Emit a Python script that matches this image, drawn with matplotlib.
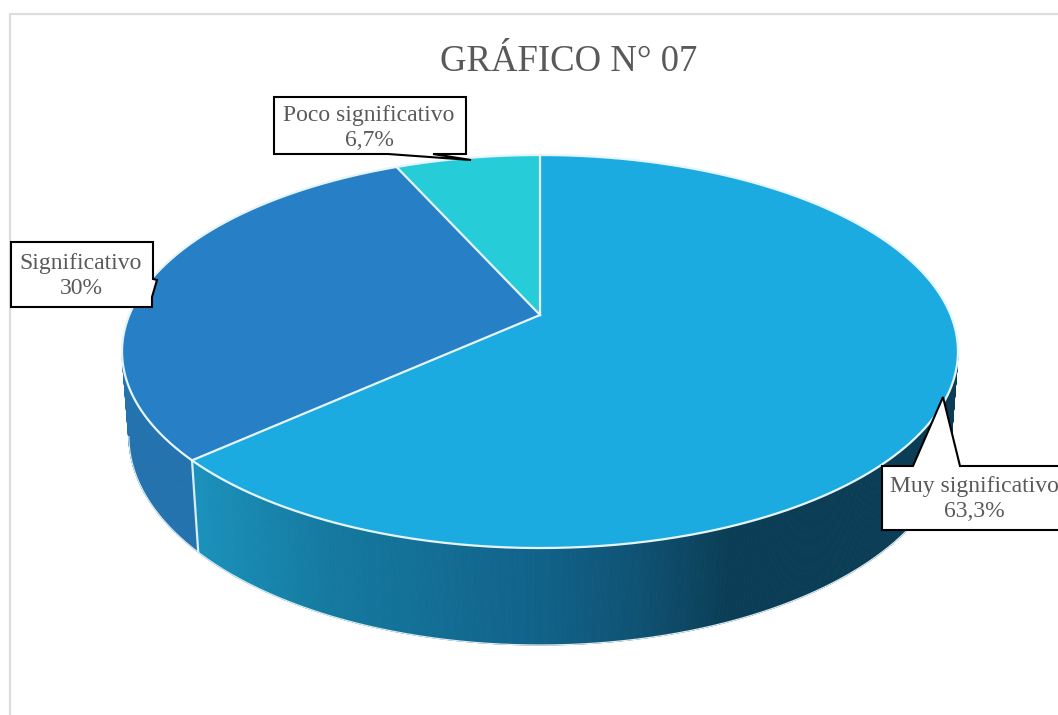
import numpy as np
import matplotlib
matplotlib.use("Agg")
import matplotlib.pyplot as plt
from matplotlib.collections import PolyCollection
from matplotlib.colors import to_rgb

plt.rcParams['font.family'] = ['Liberation Serif', 'DejaVu Serif']

title = "GRÁFICO N° 07"
labels = ["Muy significativo", "Significativo", "Poco significativo"]
values = [63.3, 30, 6.7]
colors = ["#1babe0", "#277fc5", "#26ccd8"]
text_color = "#595959"


# perspective of the tilted disc, z=0 top face, z=1 bottom rim
def project(theta, z=0.0):
    u = np.sin(theta)
    v = np.cos(theta)
    w = 1 + 0.1858 * v + 0.016 * z
    return 540 + 410.7 * u / w, (315 - 131.2 * v + 89.3 * z) / w


def wall_color(x):
    stops = [200, 330, 540, 640, 730]
    cols = np.array([to_rgb(c) for c in ["#1a90ba", "#15799f", "#11628a", "#0f5273", "#0b3e56"]])
    return tuple(np.interp(x, stops, cols[:, i]) for i in range(3))


def wall_quads(t0, t1, n):
    ts = np.linspace(t0, t1, n)
    quads = []
    for a, b in zip(ts[:-1], ts[1:]):
        quads.append([project(a), project(b), project(b, 1), project(a, 1)])
    return quads


fig = plt.figure(figsize=(10.58, 7.15), dpi=100)
ax = fig.add_axes([0, 0, 1, 1])
ax.set_xlim(0, 1058)
ax.set_ylim(715, 0)
ax.axis("off")

# chart frame, no right edge in the crop
ax.plot([9.5, 9.5, 1058], [715, 13.5, 13.5], color="#dddddd", lw=1.6)

edges = np.radians(np.cumsum([0] + values) * 3.6)
# silhouette of the disc on the right and left
t_right = np.radians(100.7)
t_left = np.radians(259.3)

# outer wall, only the front part is visible
quads = wall_quads(t_right, edges[1], 400)
cols = [wall_color(q[0][0]) for q in quads]
ax.add_collection(PolyCollection(quads, facecolors=cols, edgecolors=cols, linewidths=0.7, zorder=2))
ax.add_collection(PolyCollection(wall_quads(edges[1], t_left, 60), facecolors="#2473ae",
                                 edgecolors="#2473ae", linewidths=0.7, zorder=2))

# thin light line along the bottom rim and on the slice edge
ts = np.linspace(t_right, t_left, 400)
ax.plot(*project(ts, 1), color="#dcecf2", lw=0.9, zorder=2.5)
ax.plot(*zip(project(edges[1]), project(edges[1], 1)), color="#d5eef8", lw=1.6, zorder=3)

# top face
apex = (540, 315)
for i, col in enumerate(colors):
    ts = np.linspace(edges[i], edges[i + 1], 300)
    xs, ys = project(ts)
    ax.fill(np.r_[apex[0], xs], np.r_[apex[1], ys], color=col, lw=0, zorder=4)
ts = np.linspace(0, 2 * np.pi, 800)
ax.plot(*project(ts), color="#e6f5fb", lw=1.6, zorder=5)
for e in edges[:3]:
    x, y = project(e)
    ax.plot([apex[0], x], [apex[1], y], color="#e6f5fb", lw=1.6, zorder=5)

ax.text(569, 62, title, ha="center", va="center", fontsize=26.5, color=text_color, zorder=8)

# callouts
callouts = [
    ([882, 913, 943, 960, 1060, 1060, 882, 882], [466, 466, 397, 466, 466, 530, 530, 466], 974, 499),
    ([11, 153, 153, 157, 152, 152, 11, 11], [242, 242, 279, 280, 297, 307, 307, 242], 81, 276),
    ([274, 466, 466, 433, 471, 388, 274, 274], [97, 97, 154, 154, 160, 154, 154, 97], 369, 128),
]
for name, val, (px, py, tx, ty) in zip(labels, values, callouts):
    ax.fill(px, py, facecolor="white", edgecolor="black", lw=1.5, joinstyle="miter", zorder=6)
    txt = f"{val:g}".replace(".", ",") + "%"
    ax.text(tx, ty, name + "\n" + txt, ha="center", va="center", fontsize=17, color=text_color,
            linespacing=1.3, zorder=7)

fig.savefig("out.png", dpi=100)
